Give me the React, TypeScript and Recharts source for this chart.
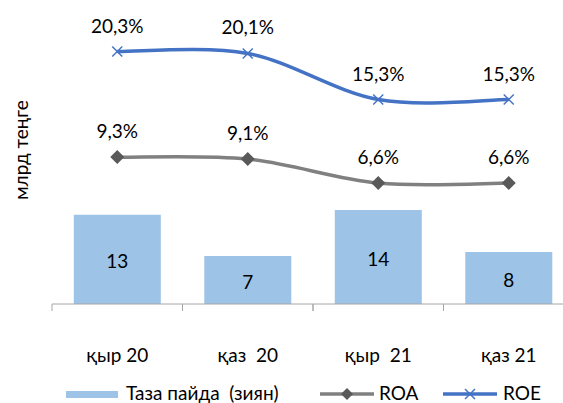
import {
  ComposedChart, Bar, Line, XAxis, YAxis, Legend, LabelList, Label,
} from 'recharts';

const periods = ['қыр 20', 'қаз  20', 'қыр  21', 'қаз 21'];
const netProfit = [13.0, 7.0, 13.7, 7.6];
const roa = [9.3, 9.1, 6.6, 6.6];
const roe = [20.3, 20.1, 15.3, 15.3];

const data = periods.map((period, i) => ({
  period,
  profit: netProfit[i],
  roa: roa[i],
  roe: roe[i],
}));

const FONT = 'Lato, "Liberation Sans", sans-serif';
const FS = 19;
const BAR_COLOR = '#9DC3E6';
const ROA_COLOR = '#808080';
const ROA_MARK = '#595959';
const ROE_COLOR = '#4472C4';
const AXIS_COLOR = '#A6A6A6';

const CHART_W = 574;
const CHART_H = 403;
const LEFT = 52;
const HALF_BAND = (CHART_W - LEFT) / periods.length / 2;

const pct = (v: number) => `${v.toFixed(1).replace('.', ',')}%`;
const whole = (v: number) => v.toFixed(0);

// Excel-style smoothed line (Catmull-Rom through the points)
const smoothCurve: any = (context: any) => {
  let pts: number[][] = [];
  return {
    areaStart() {},
    areaEnd() {},
    lineStart() {
      pts = [];
    },
    point(x: number, y: number) {
      pts.push([+x, +y]);
    },
    lineEnd() {
      if (!pts.length) return;
      context.moveTo(pts[0][0], pts[0][1]);
      for (let i = 0; i < pts.length - 1; i++) {
        const p0 = pts[i - 1] || pts[i];
        const p1 = pts[i];
        const p2 = pts[i + 1];
        const p3 = pts[i + 2] || p2;
        context.bezierCurveTo(
          p1[0] + (p2[0] - p0[0]) / 6, p1[1] + (p2[1] - p0[1]) / 6,
          p2[0] - (p3[0] - p1[0]) / 6, p2[1] - (p3[1] - p1[1]) / 6,
          p2[0], p2[1],
        );
      }
    },
  };
};

function CategoryTick(props: any) {
  const { x, y, payload } = props;
  return (
    <g>
      <line x1={x - HALF_BAND} x2={x - HALF_BAND} y1={y - 8} y2={y - 1} stroke={AXIS_COLOR} />
      <line x1={x + HALF_BAND} x2={x + HALF_BAND} y1={y - 8} y2={y - 1} stroke={AXIS_COLOR} />
      <text
        x={x}
        y={y + 50}
        textAnchor="middle"
        fontSize={FS}
        fill="#000"
        style={{ whiteSpace: 'pre' }}
      >
        {payload.value}
      </text>
    </g>
  );
}

function Diamond(props: any) {
  const { cx, cy } = props;
  if (cx == null || cy == null) return null;
  const r = 7;
  return (
    <polygon
      points={`${cx},${cy - r} ${cx + r},${cy} ${cx},${cy + r} ${cx - r},${cy}`}
      fill={ROA_MARK}
    />
  );
}

function Cross(props: any) {
  const { cx, cy } = props;
  if (cx == null || cy == null) return null;
  const r = 5;
  return (
    <g stroke={ROE_COLOR} strokeWidth={1.5}>
      <line x1={cx - r} y1={cy - r} x2={cx + r} y2={cy + r} />
      <line x1={cx - r} y1={cy + r} x2={cx + r} y2={cy - r} />
    </g>
  );
}

function LegendContent() {
  return (
    <div
      style={{
        position: 'relative',
        height: 30,
        fontFamily: FONT,
        fontSize: FS,
        color: '#000',
      }}
    >
      <div style={{ position: 'absolute', left: 66, top: 18, width: 52, height: 7, background: BAR_COLOR }} />
      <span style={{ position: 'absolute', left: 126, top: 8, whiteSpace: 'pre' }}>Таза пайда  (зиян)</span>
      <svg style={{ position: 'absolute', left: 318, top: 11 }} width={58} height={20}>
        <line x1={2} x2={56} y1={10} y2={10} stroke={ROA_COLOR} strokeWidth={3.5} />
        <polygon points="29,4 35,10 29,16 23,10" fill={ROA_MARK} />
      </svg>
      <span style={{ position: 'absolute', left: 379, top: 8 }}>ROA</span>
      <svg style={{ position: 'absolute', left: 441, top: 11 }} width={58} height={20}>
        <line x1={2} x2={56} y1={10} y2={10} stroke={ROE_COLOR} strokeWidth={3.5} />
        <g stroke={ROE_COLOR} strokeWidth={1.5}>
          <line x1={24} y1={5} x2={34} y2={15} />
          <line x1={24} y1={15} x2={34} y2={5} />
        </g>
      </svg>
      <span style={{ position: 'absolute', left: 503, top: 8 }}>ROE</span>
    </div>
  );
}

export default function App() {
  return (
    <div
      style={{
        position: 'fixed',
        left: 0,
        top: 0,
        width: 563,
        height: 403,
        overflow: 'hidden',
        background: '#fff',
        fontFamily: FONT,
      }}
    >
      <ComposedChart
        width={CHART_W}
        height={CHART_H}
        data={data}
        margin={{ top: 16, right: 0, bottom: 0, left: 0 }}
        barCategoryGap="16.7%"
        style={{ fontFamily: FONT }}
      >
        <XAxis
          dataKey="period"
          height={69}
          axisLine={{ stroke: AXIS_COLOR }}
          tickLine={false}
          interval={0}
          tick={<CategoryTick />}
        />
        <YAxis yAxisId="left" width={LEFT} domain={[0, 42]} axisLine={false} tickLine={false} tick={false}>
          <Label
            content={(props: any) => {
              const vb = props.viewBox;
              const cx = vb.x + 20;
              const cy = vb.y + vb.height / 2 - 10;
              return (
                <text
                  x={cx}
                  y={cy}
                  transform={`rotate(-90 ${cx} ${cy})`}
                  textAnchor="middle"
                  dominantBaseline="central"
                  fontSize={FS}
                  fill="#000"
                >
                  млрд теңге
                </text>
              );
            }}
          />
        </YAxis>
        <YAxis yAxisId="right" orientation="right" width={0} domain={[-6, 24]} hide />
        <Legend verticalAlign="bottom" content={<LegendContent />} />
        <Bar yAxisId="left" dataKey="profit" name="Таза пайда  (зиян)" fill={BAR_COLOR} isAnimationActive={false}>
          <LabelList dataKey="profit" position="center" fontSize={FS} fill="#000" formatter={whole} dy={2} />
        </Bar>
        <Line
          yAxisId="right"
          type={smoothCurve}
          dataKey="roa"
          name="ROA"
          stroke={ROA_COLOR}
          strokeWidth={3.5}
          dot={<Diamond />}
          activeDot={false}
          isAnimationActive={false}
        >
          <LabelList dataKey="roa" position="top" offset={19} fontSize={FS} fill="#000" formatter={pct} />
        </Line>
        <Line
          yAxisId="right"
          type={smoothCurve}
          dataKey="roe"
          name="ROE"
          stroke={ROE_COLOR}
          strokeWidth={3.5}
          dot={<Cross />}
          activeDot={false}
          isAnimationActive={false}
        >
          <LabelList dataKey="roe" position="top" offset={19} fontSize={FS} fill="#000" formatter={pct} />
        </Line>
      </ComposedChart>
    </div>
  );
}
